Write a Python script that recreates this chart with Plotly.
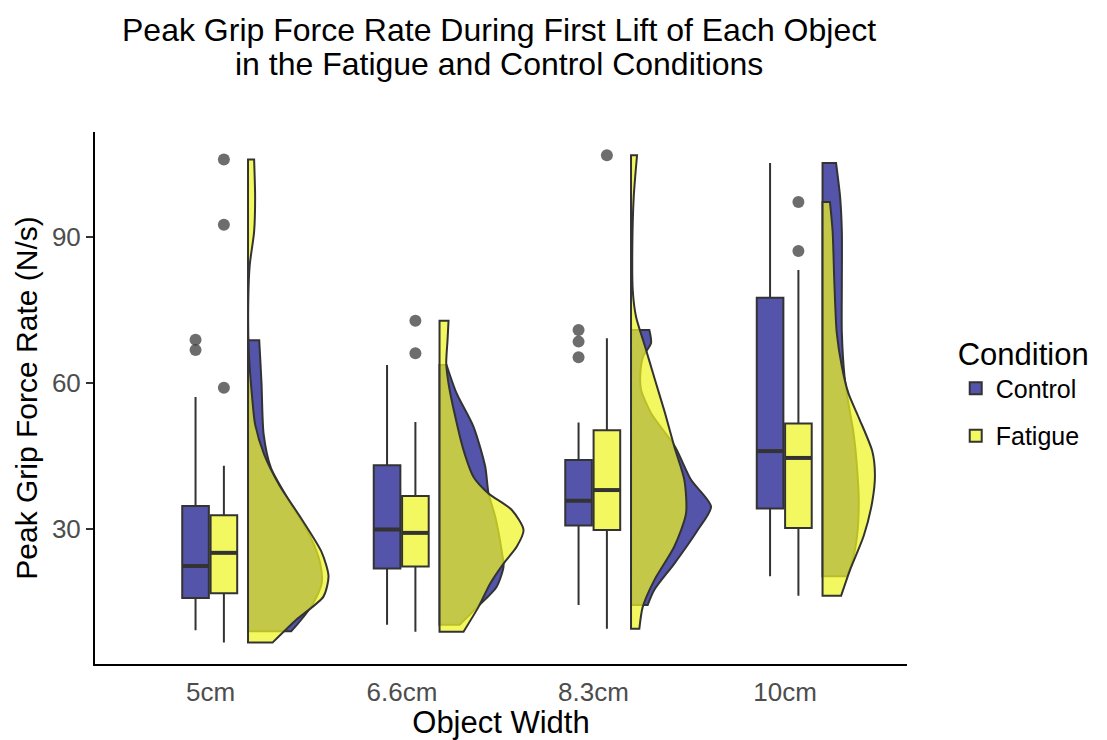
import plotly.graph_objects as go

# ---------------- data ----------------
categories = ["5cm", "6.6cm", "8.3cm", "10cm"]
conditions = ["Control", "Fatigue"]
title_lines = ["Peak Grip Force Rate During First Lift of Each Object",
               "in the Fatigue and Control Conditions"]

# box statistics (N/s)
control_q1 = [15.8, 21.9, 30.7, 34.2]
control_median = [22.4, 29.9, 35.8, 46.0]
control_q3 = [34.7, 43.1, 44.2, 77.5]
control_lower = [9.2, 10.3, 14.4, 20.3]
control_upper = [57.1, 63.7, 51.9, 105.2]

fatigue_q1 = [16.8, 22.3, 29.8, 30.2]
fatigue_median = [25.1, 29.2, 38.0, 44.6]
fatigue_q3 = [32.8, 36.8, 50.3, 51.7]
fatigue_lower = [6.7, 8.9, 9.5, 16.3]
fatigue_upper = [43.0, 52.0, 69.2, 83.2]

# outliers per category
control_outliers = [[68.9, 66.8], [], [70.9, 68.5, 65.3], []]
fatigue_outliers = [[105.9, 92.5, 59.0], [72.8, 66.1], [106.8], [97.2, 87.1]]

# half-violin density profiles: value levels (top -> bottom) and relative density
control_dens_y = [
    [68.8, 59.9, 49.5, 42.5, 35.6, 28.6, 23.1, 18.9, 14.7, 11.3, 9.0],
    [63.7, 57.9, 51.0, 42.8, 37.3, 32.5, 25.7, 22.3, 18.1, 14.0, 10.3],
    [70.9, 68.2, 65.4, 62.0, 58.6, 53.8, 46.9, 40.1, 34.6, 29.8, 22.9, 17.5, 14.4],
    [105.2, 98.1, 91.1, 80.7, 70.3, 61.3, 56.4, 49.5, 42.5, 35.6, 28.6, 23.1, 20.3],
]
control_dens = [
    [11.2, 13.5, 15.6, 23.0, 41.6, 61.9, 72.0, 73.7, 65.0, 53.0, 43.3],
    [7.0, 17.0, 34.0, 45.7, 49.0, 55.7, 62.0, 64.0, 57.0, 38.0, 20.0],
    [18.3, 20.0, 12.0, 9.3, 10.0, 20.0, 44.0, 60.0, 80.0, 66.7, 43.3, 23.3, 16.7],
    [13.5, 17.6, 19.3, 19.3, 19.3, 22.0, 25.4, 31.1, 34.5, 36.2, 34.5, 29.4, 24.3],
]
fatigue_dens_y = [
    [105.9, 98.1, 91.1, 84.2, 77.3, 66.8, 56.4, 51.5, 45.3, 39.0, 32.1, 25.2, 20.3, 16.1, 11.3, 6.7],
    [72.8, 68.8, 64.0, 59.9, 53.1, 46.2, 40.7, 37.3, 33.9, 29.8, 26.4, 22.9, 18.8, 14.0, 8.9],
    [106.8, 98.3, 88.0, 79.1, 73.6, 67.5, 60.6, 53.8, 46.9, 40.1, 33.2, 26.4, 19.5, 14.0, 9.5],
    [97.2, 91.1, 80.7, 70.3, 63.4, 57.8, 52.9, 46.0, 41.1, 35.6, 28.6, 21.7, 16.3],
]
fatigue_dens = [
    [6.1, 7.1, 6.1, 1.7, 0.3, 0.7, 4.4, 7.1, 16.2, 31.4, 53.4, 73.7, 80.5, 75.4, 48.0, 24.7],
    [9.0, 8.0, 6.7, 9.0, 15.7, 24.0, 34.0, 49.0, 72.3, 84.0, 77.3, 64.0, 50.7, 39.0, 24.0],
    [6.0, 2.7, 1.3, 1.7, 5.0, 14.0, 24.0, 34.0, 43.3, 53.3, 55.0, 43.3, 23.3, 11.7, 8.3],
    [7.4, 10.1, 11.8, 14.2, 19.3, 26.0, 36.2, 49.7, 52.4, 49.7, 41.2, 27.7, 18.6],
]

# ---------------- styling ----------------
FONT = "Liberation Sans, Arial, Helvetica, sans-serif"
CTRL_FILL = "rgba(18,18,137,0.72)"
FAT_FILL = "rgba(240,245,34,0.72)"
EDGE = "#333333"
BOX_W = 0.139
OFFSET = {"Control": -0.078, "Fatigue": 0.070}
DENS_BASE = 0.196
DENS_SCALE = 1 / 191.5

pos = list(range(1, len(categories) + 1))

fig = go.Figure()

stats = {
    "Control": (control_q1, control_median, control_q3, control_lower, control_upper, control_outliers, CTRL_FILL),
    "Fatigue": (fatigue_q1, fatigue_median, fatigue_q3, fatigue_lower, fatigue_upper, fatigue_outliers, FAT_FILL),
}

# densities (half violins); corner points doubled so the spline keeps sharp corners
for cond, dys, dws, fill in [("Control", control_dens_y, control_dens, CTRL_FILL),
                             ("Fatigue", fatigue_dens_y, fatigue_dens, FAT_FILL)]:
    for i, p in enumerate(pos):
        base = p + DENS_BASE
        ys = dys[i]
        xs_prof = [base + w * DENS_SCALE for w in dws[i]]
        xs = [base, base, base, base, xs_prof[0]] + xs_prof + [xs_prof[-1], base, base]
        yy = [ys[-1], ys[-1], ys[0], ys[0], ys[0]] + ys + [ys[-1], ys[-1], ys[-1]]
        fig.add_trace(go.Scatter(
            x=xs, y=yy, mode="lines", fill="toself", fillcolor=fill,
            line=dict(color=EDGE, width=2, shape="spline", smoothing=0.7, simplify=False),
            showlegend=False, hoverinfo="skip"))

# boxes
for cond in conditions:
    q1, med, q3, lo, hi, outs, fill = stats[cond]
    xb = [p + OFFSET[cond] for p in pos]
    fig.add_trace(go.Box(
        x=xb, q1=q1, median=med, q3=q3, lowerfence=lo, upperfence=hi,
        name=cond, legendgroup=cond, width=BOX_W, fillcolor=fill, whiskerwidth=0,
        line=dict(color=EDGE, width=2), boxpoints=False, showlegend=True))
    # thicker median lines
    mx, my = [], []
    for x, m in zip(xb, med):
        mx += [x - BOX_W / 2, x + BOX_W / 2, None]
        my += [m, m, None]
    fig.add_trace(go.Scatter(x=mx, y=my, mode="lines", line=dict(color=EDGE, width=4),
                             showlegend=False, hoverinfo="skip"))
    # outliers
    ox, oy = [], []
    for x, o in zip(xb, outs):
        ox += [x] * len(o)
        oy += o
    fig.add_trace(go.Scatter(x=ox, y=oy, mode="markers",
                             marker=dict(size=12, color="rgba(60,60,60,0.75)"),
                             showlegend=False, hoverinfo="skip"))

# two-line title as annotations (tighter line spacing than layout.title)
for line_text, ypos in zip(title_lines, [1.1917, 1.1278]):
    fig.add_annotation(text=line_text, xref="paper", yref="paper", x=0.497, y=ypos,
                       xanchor="center", yanchor="middle", showarrow=False,
                       font=dict(size=32, color="black", family=FONT))

fig.update_layout(
    width=1107, height=740,
    margin=dict(l=95, r=200, t=132, b=76),
    paper_bgcolor="white", plot_bgcolor="white",
    font=dict(family=FONT, color="black"),
    legend=dict(title=dict(text="Condition", font=dict(size=31)), font=dict(size=25),
                x=1.06, y=0.637, xanchor="left", yanchor="top", bgcolor="rgba(0,0,0,0)",
                tracegroupgap=12, itemsizing="constant"),
    showlegend=True,
)
fig.update_xaxes(
    range=[0.397, 4.637], tickvals=pos, ticktext=categories, automargin=False,
    showline=True, linecolor="black", linewidth=2, ticks="", ticklabelstandoff=4,
    tickfont=dict(size=26, color="#4d4d4d"), showgrid=False, zeroline=False,
    title=dict(text="Object Width", font=dict(size=31), standoff=4),
)
fig.update_yaxes(
    range=[2.26, 111.57], tickvals=[30, 60, 90], automargin=False,
    showline=True, linecolor="black", linewidth=2, ticks="outside", ticklen=7,
    tickcolor="#333333", tickwidth=2,
    tickfont=dict(size=26, color="#4d4d4d"), showgrid=False, zeroline=False,
    title=dict(text="Peak Grip Force Rate (N/s)", font=dict(size=30), standoff=5),
)

fig.write_html("out.html")
